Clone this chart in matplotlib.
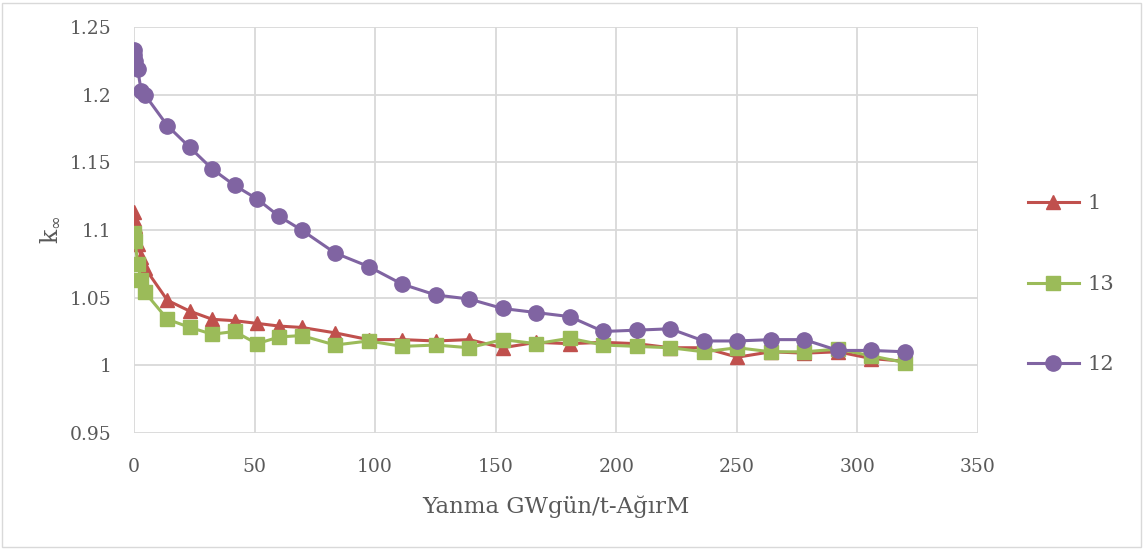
import matplotlib.pyplot as plt
from matplotlib.patches import Rectangle

# burnup steps (GWd/tHM) shared by all three cases
burnup = [0, 0.1, 0.5, 1.5, 3.0, 4.5, 13.9, 23.2, 32.5, 41.7, 51.0, 60.3, 69.5,
          83.4, 97.3, 111.2, 125.1, 139.0, 152.9, 166.8, 180.7, 194.6, 208.5,
          222.4, 236.3, 250.2, 264.1, 278.0, 291.9, 305.8, 319.7]

k_1 = [1.113, 1.108, 1.103, 1.090, 1.080, 1.072, 1.048, 1.040, 1.034, 1.033,
       1.031, 1.029, 1.028, 1.024, 1.019, 1.019, 1.018, 1.019, 1.013, 1.017,
       1.016, 1.017, 1.016, 1.013, 1.013, 1.006, 1.010, 1.009, 1.010, 1.005,
       1.003]
k_13 = [1.098, 1.095, 1.092, 1.075, 1.063, 1.054, 1.034, 1.028, 1.023, 1.025,
        1.016, 1.021, 1.022, 1.015, 1.018, 1.014, 1.015, 1.013, 1.019, 1.016,
        1.020, 1.015, 1.014, 1.013, 1.010, 1.013, 1.010, 1.010, 1.012, 1.007,
        1.002]
k_12 = [1.233, 1.229, 1.225, 1.219, 1.203, 1.200, 1.177, 1.161, 1.145, 1.133,
        1.123, 1.110, 1.100, 1.083, 1.073, 1.060, 1.052, 1.049, 1.042, 1.039,
        1.036, 1.025, 1.026, 1.027, 1.018, 1.018, 1.019, 1.019, 1.011, 1.011,
        1.010]

series_labels = ['1', '13', '12']

plt.rcParams['font.family'] = ['DejaVu Serif']
txt = '#595959'
grid = '#D9D9D9'

fig = plt.figure(figsize=(11.44, 5.49), dpi=100)
fig.patches.append(Rectangle((0.002, 0.004), 0.995, 0.991, transform=fig.transFigure,
                             fill=False, edgecolor=grid, linewidth=1))
ax = fig.add_axes([0.1171, 0.2113, 0.7378, 0.7395])

ax.plot(burnup, k_1, color='#C0504D', marker='^', markersize=10, linewidth=2.2, label=series_labels[0])
ax.plot(burnup, k_13, color='#9BBB59', marker='s', markersize=9.5, linewidth=2.2, label=series_labels[1])
ax.plot(burnup, k_12, color='#8064A2', marker='o', markersize=11, linewidth=2.2, label=series_labels[2])

ax.set_xlim(0, 350)
ax.set_ylim(0.95, 1.25)
ax.set_xticks(range(0, 351, 50))
ax.set_yticks([0.95, 1.0, 1.05, 1.1, 1.15, 1.2, 1.25])
ax.set_yticklabels(['0.95', '1', '1.05', '1.1', '1.15', '1.2', '1.25'])
ax.grid(True, color=grid, linewidth=1.3)
ax.set_axisbelow(True)
for s in ax.spines.values():
    s.set_visible(False)
ax.tick_params(length=0, labelsize=13.5, colors=txt, pad=16)
ax.tick_params(axis='x', pad=18)

ax.set_xlabel('Yanma GWgün/t-AğırM', fontsize=16.5, color=txt, labelpad=14)
ax.set_ylabel(r'k$_{\infty}$', fontsize=17, color=txt, labelpad=6)

fig.legend(loc='center left', bbox_to_anchor=(0.882, 0.482), frameon=False,
           fontsize=15, labelspacing=2.95, handlelength=2.45, handletextpad=0.4,
           labelcolor=txt)

fig.savefig('out.png', dpi=100)
